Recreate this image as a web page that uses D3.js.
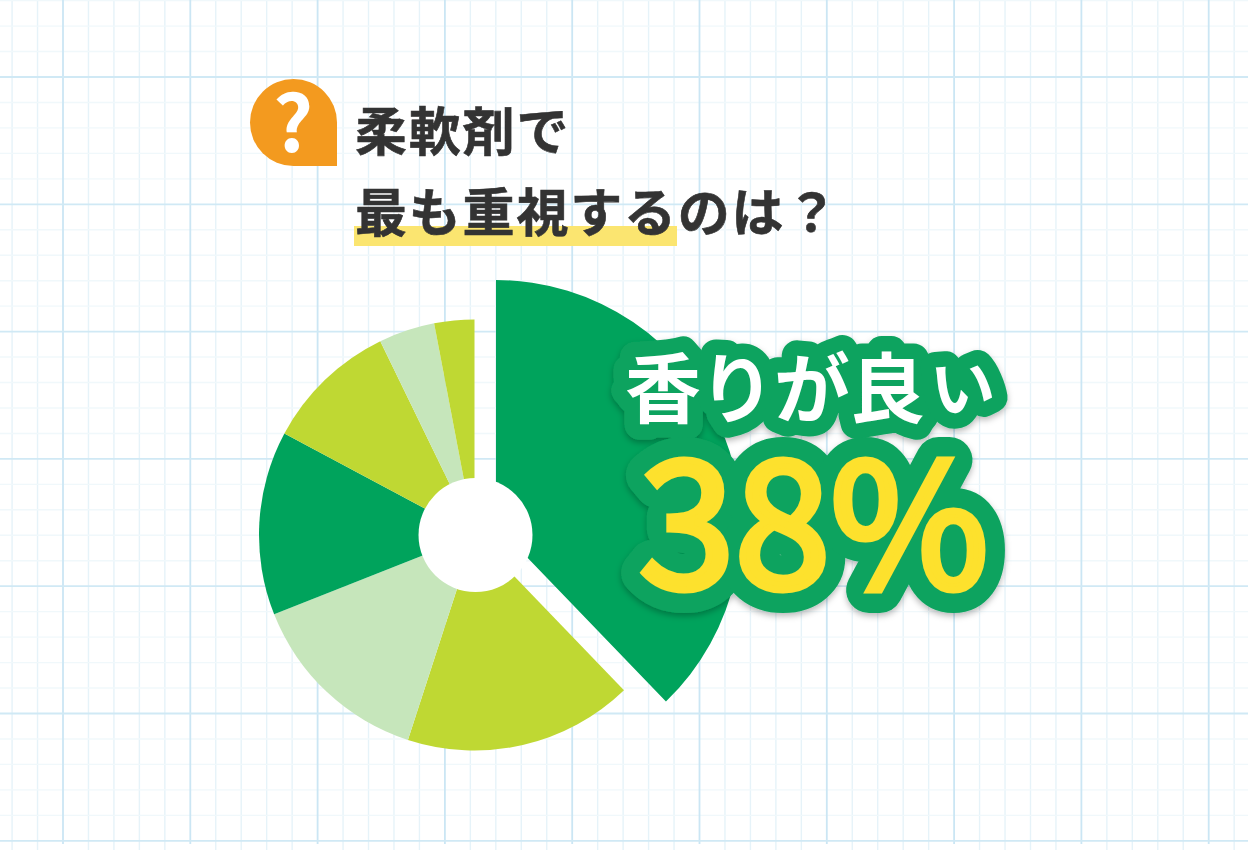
<!DOCTYPE html>
<html lang="ja"><head><meta charset="utf-8">
<script src="https://cdn.jsdelivr.net/npm/d3@7"></script>
<style>html,body{margin:0;padding:0;background:#fff;overflow:hidden}svg{display:block}
text{font-family:"Noto Sans CJK JP","Noto Sans",sans-serif}</style></head><body>
<svg id="c" width="1248" height="850"></svg>
<script>
const sliceValues = [37.8, 17.2, 14, 13.8, 10, 4.2, 3];
const sliceColors = ["#00a35c", "#bfd833", "#c6e6bb", "#00a35c", "#bfd833", "#c6e6bb", "#bfd833"];
const titleLines = ["柔軟剤で", "最も重視するのは？"];
const calloutChars = ["香", "り", "が", "良", "い"];
const calloutValue = "38%";

const svg = d3.select("#c");
const defs = svg.append("defs");
const sh = defs.append("filter").attr("id","sh").attr("x","-10%").attr("y","-10%").attr("width","120%").attr("height","125%");
sh.append("feDropShadow").attr("dx",0).attr("dy",3).attr("stdDeviation",3).attr("flood-color","#000").attr("flood-opacity",.28);

// graph-paper background
const gx = d3.scaleLinear().domain([0,1]).range([63,63+127.3]);
const gy = d3.scaleLinear().domain([0,1]).range([77,77+127.3]);
const grid = svg.append("g");
const minor = d3.range(-15,60).filter(k=>k%5!==0).map(k=>k/5);
const major = d3.range(-1,11);
grid.selectAll(".mv").data(minor).join("line").attr("x1",gx).attr("x2",gx).attr("y1",0).attr("y2",850).attr("stroke","#e6f3f9").attr("stroke-width",1.4);
grid.selectAll(".mh").data(minor).join("line").attr("y1",gy).attr("y2",gy).attr("x1",0).attr("x2",1248).attr("stroke","#f0f8fb").attr("stroke-width",1.4);
grid.selectAll(".Mv").data(major).join("line").attr("x1",gx).attr("x2",gx).attr("y1",0).attr("y2",844).attr("stroke","#cbe6f4").attr("stroke-width",1.8);
grid.selectAll(".Mh").data(major).join("line").attr("y1",gy).attr("y2",gy).attr("x1",0).attr("x2",1248).attr("stroke","#d0e9f5").attr("stroke-width",1.8);

// icon
const icon = svg.append("g");
icon.append("path").attr("d","M293.5 79A43.5 43.5 0 0 1 337 122.5V166H293.5A43.5 43.5 0 0 1 293.5 79Z").attr("fill","#f39a1f");
icon.append("text").attr("x",293).attr("y",152).attr("text-anchor","middle").attr("font-size",78).attr("font-weight",700).attr("fill","#fff").text("?");

// title
svg.append("rect").attr("x",354).attr("y",226).attr("width",323).attr("height",20).attr("fill","#fbe570");
svg.selectAll(".t").data(titleLines).join("text").attr("x",355).attr("y",(d,i)=>[151,232][i])
  .attr("font-size",52).attr("font-weight",700).attr("letter-spacing",1.8).attr("fill","#333")
  .attr("stroke","#333").attr("stroke-width",.6).text(d=>d);

// pie
const cx=474.5, cy=535, R=215.5, Rbig=245, r0=57;
const arcs = d3.pie().sort(null)(sliceValues);
const arc = d3.arc().innerRadius(0);
const pg = svg.append("g");
pg.selectAll("path").data(arcs).join("path")
  .attr("transform",(d,i)=>i===0?`translate(496,525)`:`translate(${cx},${cy})`)
  .attr("d",(d,i)=>arc({...d,outerRadius:i===0?Rbig:R}))
  .attr("fill",(d,i)=>sliceColors[i]);
pg.append("circle").attr("cx",cx+1).attr("cy",cy).attr("r",r0).attr("fill","#fff");

// callout
const charX=[663,737,812,887,965], charY=[417,417,417,417,411], charR=[0,0,0,0,-5], charS=[76,76,76,76,64];
const cg = svg.append("g").attr("filter","url(#sh)");
const put=(sel)=>sel.attr("text-anchor","middle").attr("font-size",(d,i)=>charS[i]).attr("font-weight",700)
  .attr("transform",(d,i)=>`translate(${charX[i]},${charY[i]}) rotate(${charR[i]})`).text(d=>d);
cg.selectAll(".o").data(calloutChars).join("text").call(put).attr("fill","#0fa35f").attr("stroke","#0fa35f").attr("stroke-width",31).attr("stroke-linejoin","round");
const valueAttrs=(sel)=>sel.attr("x",814).attr("y",588).attr("text-anchor","middle").attr("font-size",172).attr("font-weight",400).text(calloutValue);
cg.append("text").call(valueAttrs).attr("fill","#0fa35f").attr("stroke","#0fa35f").attr("stroke-width",46).attr("stroke-linejoin","round");
const tg = svg.append("g");
tg.selectAll(".f").data(calloutChars).join("text").call(put).attr("fill","#fff");
tg.append("text").call(valueAttrs).attr("fill","#fde12d").attr("stroke","#fde12d").attr("stroke-width",7).attr("stroke-linejoin","miter");
</script></body></html>
